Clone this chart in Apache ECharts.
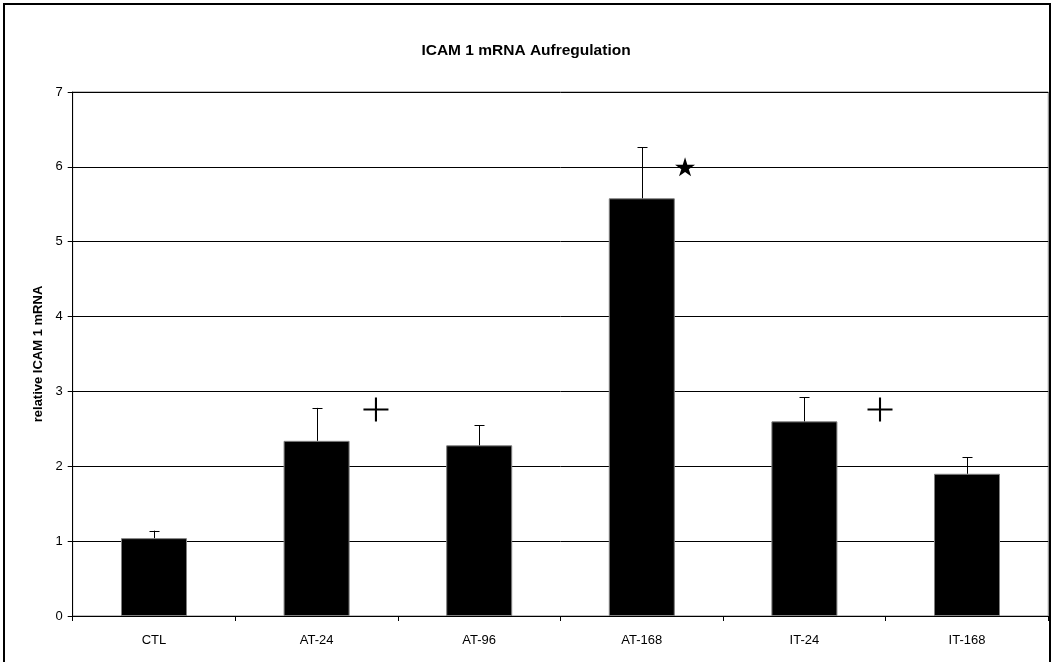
<!DOCTYPE html>
<html>
<head>
<meta charset="utf-8">
<script src="https://cdn.jsdelivr.net/npm/echarts@6/dist/echarts.min.js"></script>
<style>html,body{margin:0;padding:0;background:#fff}#c{width:1052px;height:662px}</style>
</head>
<body>
<div id="c"></div>
<script>
var categories = ['CTL', 'AT-24', 'AT-96', 'AT-168', 'IT-24', 'IT-168'];
var means = [1.04, 2.34, 2.28, 5.58, 2.60, 1.90];
var errorTops = [1.14, 2.78, 2.55, 6.26, 2.92, 2.12];
var yTicks = [0, 1, 2, 3, 4, 5, 6, 7];
var plusMarks = [[1.865, 2.76], [4.965, 2.76]];
var starMarks = [[3.766, 6.0]];

var FONT = '"Liberation Sans", Arial, sans-serif';
var chart = echarts.init(document.getElementById('c'), null, {renderer: 'canvas'});

var plusPath = 'path://M0,11H24V13H0Z M11,0H13V24H11Z';
var starPath = 'path://M50,0L61,35L98,35L68,57L79,91L50,70L21,91L32,57L2,35L39,35Z';

chart.setOption({
  animation: false,
  backgroundColor: '#fff',
  title: {
    text: 'ICAM 1 mRNA Aufregulation',
    left: 'center',
    top: 38,
    textStyle: {fontFamily: FONT, fontSize: 15.5, fontWeight: 'bold', color: '#000'}
  },
  graphic: [{
    type: 'rect',
    shape: {x: 4, y: 4, width: 1046, height: 700},
    style: {fill: 'none', stroke: '#000', lineWidth: 2},
    silent: true
  }],
  grid: {
    left: 72.7, right: 3.7, top: 92, bottom: 46,
    show: true, borderColor: '#808080', borderWidth: 1, backgroundColor: 'transparent'
  },
  xAxis: [{
    type: 'category',
    data: categories,
    axisLine: {lineStyle: {color: '#000', width: 1}},
    axisTick: {show: true, length: 5, lineStyle: {color: '#000'}},
    axisLabel: {fontFamily: FONT, fontSize: 13, color: '#000', margin: 18},
    splitLine: {show: false}
  }, {
    type: 'value',
    min: 0, max: 6,
    show: false
  }],
  yAxis: {
    type: 'value',
    min: 0, max: 7, interval: 1,
    name: 'relative ICAM 1 mRNA',
    nameLocation: 'middle',
    nameGap: 23,
    nameTextStyle: {fontFamily: FONT, fontSize: 13, fontWeight: 'bold', color: '#000'},
    axisLine: {show: true, lineStyle: {color: '#000', width: 1}},
    axisTick: {show: true, length: 5, lineStyle: {color: '#000'}},
    axisLabel: {fontFamily: FONT, fontSize: 13, color: '#000', margin: 10,
      formatter: function (v) { return yTicks.indexOf(v) >= 0 ? String(v) : ''; }},
    splitLine: {show: true, lineStyle: {color: '#000', width: 1}}
  },
  series: [{
    type: 'bar',
    data: means,
    barWidth: '40.6%',
    itemStyle: {color: '#000', borderColor: '#808080', borderWidth: 1},
    z: 2
  }, {
    type: 'custom',
    data: categories.map(function (c, i) { return [i, means[i], errorTops[i]]; }),
    encode: {x: 0, y: [1, 2]},
    z: 3,
    renderItem: function (params, api) {
      var i = api.value(0);
      var p0 = api.coord([i, api.value(1)]);
      var p1 = api.coord([i, api.value(2)]);
      var x = Math.round(p0[0]) + 0.5;
      return {
        type: 'group',
        children: [{
          type: 'line',
          shape: {x1: x, y1: p0[1], x2: x, y2: p1[1]},
          style: {stroke: '#000', lineWidth: 1}
        }, {
          type: 'line',
          shape: {x1: x - 5, y1: Math.round(p1[1]) + 0.5, x2: x + 5, y2: Math.round(p1[1]) + 0.5},
          style: {stroke: '#000', lineWidth: 1}
        }]
      };
    }
  }, {
    type: 'scatter',
    xAxisIndex: 1,
    data: plusMarks,
    symbol: plusPath,
    symbolSize: [25, 24],
    itemStyle: {color: '#000', opacity: 1},
    z: 4
  }, {
    type: 'scatter',
    xAxisIndex: 1,
    data: starMarks,
    symbol: starPath,
    symbolSize: [20, 19],
    itemStyle: {color: '#000', opacity: 1},
    z: 4
  }]
});
</script>
</body>
</html>
